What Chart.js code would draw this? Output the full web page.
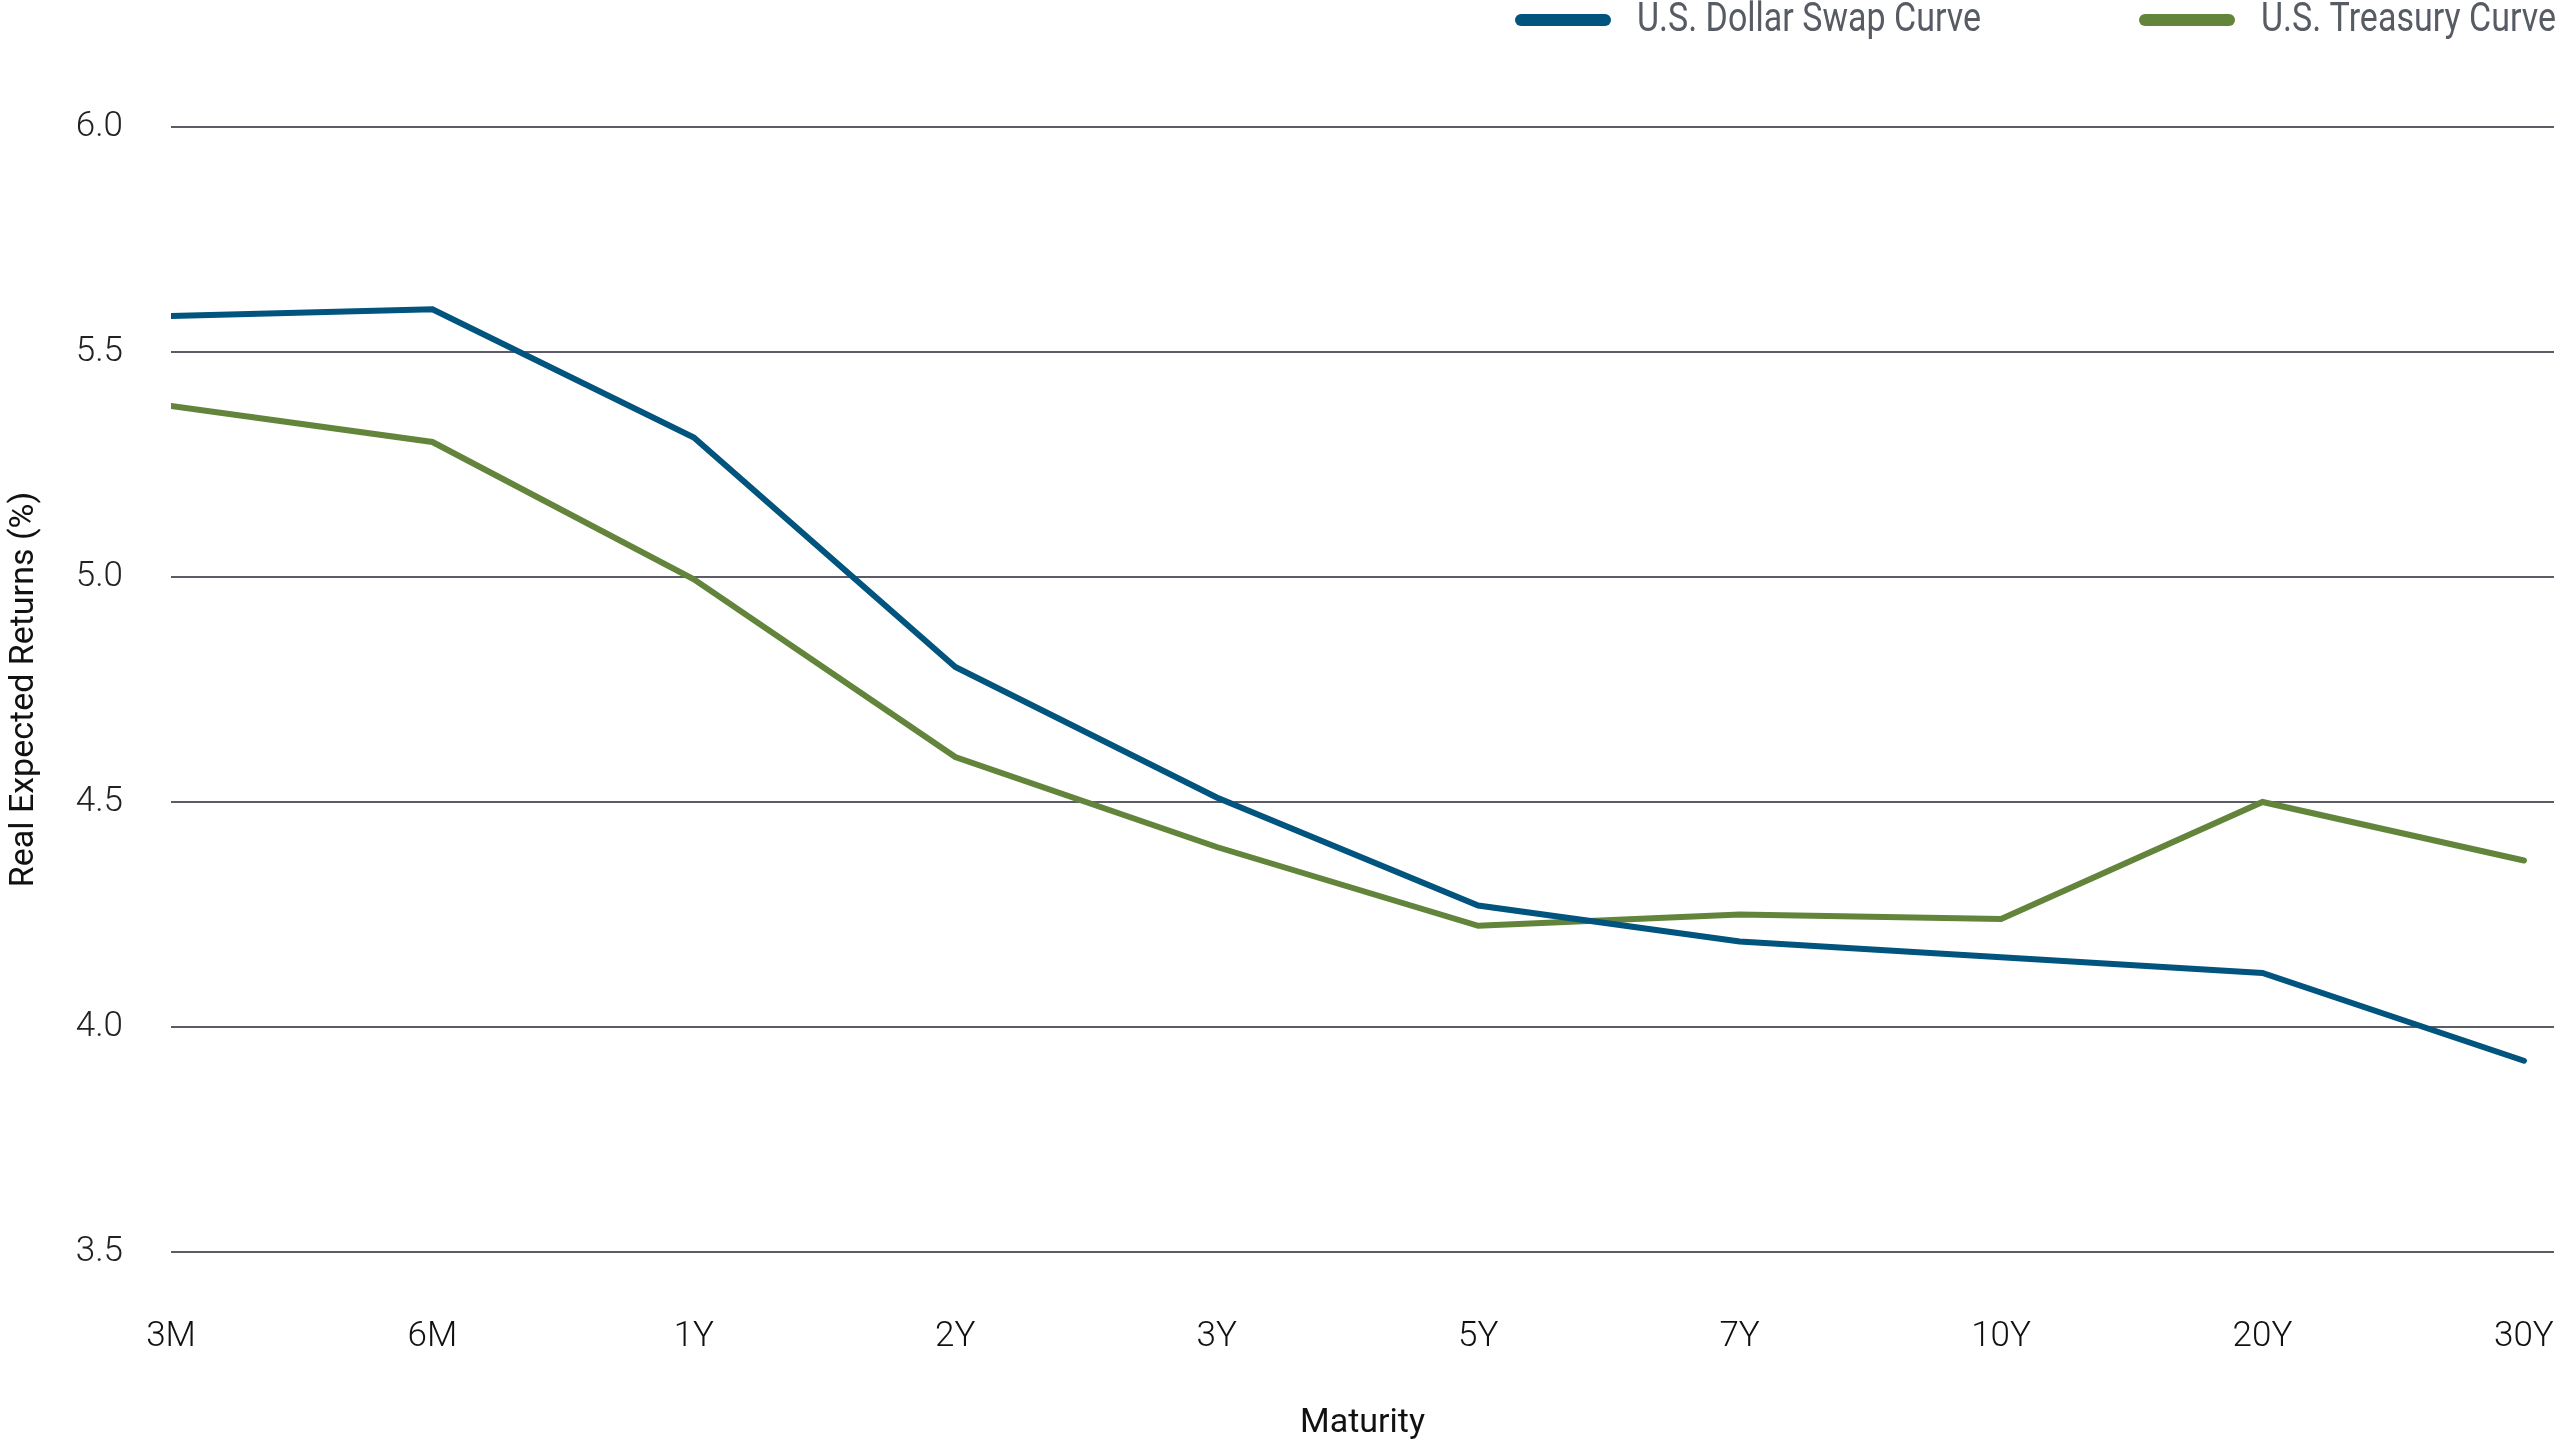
<!DOCTYPE html>
<html>
<head>
<meta charset="utf-8">
<script src="https://cdn.jsdelivr.net/npm/chart.js@4.4.1/dist/chart.umd.min.js"></script>
<style>
  html, body { margin: 0; padding: 0; background: #ffffff; }
  #wrap { width: 2560px; height: 1440px; }
</style>
</head>
<body>
<div id="wrap"><canvas id="c" width="2560" height="1440"></canvas></div>
<script>
// ---- data ----
const categories = ['3M', '6M', '1Y', '2Y', '3Y', '5Y', '7Y', '10Y', '20Y', '30Y'];
const swapCurve = [5.58, 5.595, 5.31, 4.80, 4.51, 4.27, 4.19, 4.155, 4.12, 3.925];
const treasuryCurve = [5.38, 5.30, 4.995, 4.60, 4.40, 4.225, 4.25, 4.24, 4.50, 4.37];
const seriesNames = ['U.S. Dollar Swap Curve', 'U.S. Treasury Curve'];
const yTicks = [3.5, 4.0, 4.5, 5.0, 5.5, 6.0];
const yTitle = 'Real Expected Returns (%)';
const xTitle = 'Maturity';

const BLUE = '#01547d';
const GREEN = '#62843b';

const toPoints = arr => arr.map((v, i) => ({ x: i, y: v }));

const topLegend = {
  id: 'topLegend',
  afterDraw(chart) {
    const ctx = chart.ctx;
    const sx = 0.85, fs = 40, sampleW = 96, sampleH = 12, gapText = 26, gapItem = 158, cy = 20;
    ctx.save();
    ctx.font = fs + 'px Roboto';
    const ds = chart.data.datasets;
    let x = chart.chartArea.right + 2;
    for (let i = ds.length - 1; i >= 0; i--) {
      const w = ctx.measureText(ds[i].label).width * sx;
      const tx = x - w;
      ctx.save();
      ctx.translate(tx, cy + 1);
      ctx.scale(sx, 1);
      ctx.fillStyle = '#575b64';
      ctx.textBaseline = 'middle';
      ctx.textAlign = 'left';
      ctx.fillText(ds[i].label, 0, 0);
      ctx.restore();
      const bx = tx - gapText - sampleW;
      ctx.fillStyle = ds[i].borderColor;
      ctx.beginPath();
      ctx.roundRect(bx, cy - sampleH / 2, sampleW, sampleH, sampleH / 2);
      ctx.fill();
      x = bx - gapItem;
    }
    ctx.restore();
  }
};

function draw() {
  new Chart(document.getElementById('c'), {
    type: 'line',
    data: {
      datasets: [
        { label: seriesNames[0], data: toPoints(swapCurve), borderColor: BLUE, backgroundColor: BLUE,
          borderWidth: 6, pointRadius: 0, tension: 0, borderCapStyle: 'round', fill: false },
        { label: seriesNames[1], data: toPoints(treasuryCurve), borderColor: GREEN, backgroundColor: GREEN,
          borderWidth: 6, pointRadius: 0, tension: 0, borderCapStyle: 'round', fill: false }
      ]
    },
    options: {
      responsive: false,
      animation: false,
      devicePixelRatio: 1,
      layout: { padding: { top: 127, right: 6, left: 0, bottom: 0 } },
      plugins: { legend: { display: false }, tooltip: { enabled: false } },
      scales: {
        x: {
          type: 'linear',
          min: 0,
          max: 9.115,
          afterBuildTicks: s => { s.ticks = categories.map((c, i) => ({ value: i })); },
          afterFit: s => { s.height = 188; s.paddingLeft = 0; s.paddingRight = 0; },
          grid: { display: false, drawTicks: false },
          border: { display: false },
          ticks: {
            autoSkip: false, maxRotation: 0, padding: 64,
            color: '#111111',
            font: { family: 'Roboto', size: 35, weight: 300 },
            callback: v => categories[v]
          },
          title: { display: true, text: xTitle, color: '#111111',
                   font: { family: 'Roboto', size: 34 }, padding: { top: 0, bottom: -4 } }
        },
        y: {
          min: 3.5,
          max: 6.0,
          afterBuildTicks: s => { s.ticks = yTicks.map(v => ({ value: v })); },
          afterFit: s => { s.width = 171; },
          grid: { color: '#5b5c65', lineWidth: 2, drawTicks: false },
          border: { display: false },
          ticks: {
            padding: 48, color: '#222222',
            font: { family: 'Roboto', size: 35, weight: 300 },
            callback: v => v.toFixed(1)
          },
          title: { display: true, text: yTitle, color: '#111111',
                   font: { family: 'Roboto', size: 34 }, padding: { top: 4, bottom: 0 } }
        }
      }
    },
    plugins: [topLegend]
  });
}

Promise.all([
  document.fonts.load('40px Roboto'),
  document.fonts.load('300 35px Roboto')
]).then(draw, draw);
</script>
</body>
</html>
